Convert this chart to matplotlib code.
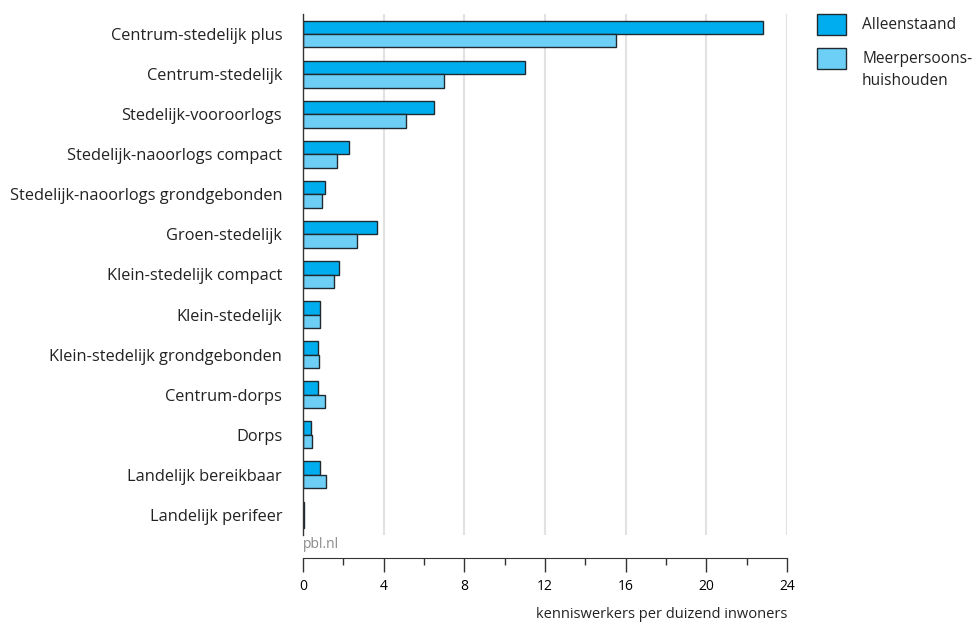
import matplotlib
matplotlib.use("Agg")
import matplotlib.pyplot as plt
import numpy as np
from matplotlib.patches import Rectangle
from matplotlib.ticker import MultipleLocator

categories = ["Centrum-stedelijk plus", "Centrum-stedelijk", "Stedelijk-vooroorlogs",
              "Stedelijk-naoorlogs compact", "Stedelijk-naoorlogs grondgebonden",
              "Groen-stedelijk", "Klein-stedelijk compact", "Klein-stedelijk",
              "Klein-stedelijk grondgebonden", "Centrum-dorps", "Dorps",
              "Landelijk bereikbaar", "Landelijk perifeer"]
alleenstaand = [22.8, 11.0, 6.5, 2.3, 1.07, 3.67, 1.78, 0.86, 0.72, 0.74, 0.41, 0.82, 0.05]
meerpersoons = [15.5, 7.0, 5.1, 1.71, 0.95, 2.68, 1.56, 0.86, 0.80, 1.10, 0.46, 1.14, 0.05]
series_names = ["Alleenstaand", "Meerpersoons-\nhuishouden"]
xticks = [0, 4, 8, 12, 16, 20, 24]
xlabel = "kenniswerkers per duizend inwoners"

plt.rcParams['font.family'] = ['Open Sans', 'DejaVu Sans']

c1 = "#00AEEF"
c2 = "#6DCFF6"
edge = "#1f2a30"
txt = "#222222"

fig = plt.figure(figsize=(9.79, 6.22), dpi=100)
W, H = 979, 622
ax = fig.add_axes([303 / W, 1 - 535 / H, (787 - 303) / W, (535 - 14) / H])

y = np.arange(len(categories))
h = 0.335
ax.barh(y - h / 2, alleenstaand, height=h, color=c1, edgecolor=edge, linewidth=1.0, zorder=3)
ax.barh(y + h / 2, meerpersoons, height=h, color=c2, edgecolor=edge, linewidth=1.0, zorder=3)

ax.set_ylim(len(categories) - 0.5, -0.5)
ax.set_xlim(0, 24)
ax.set_yticks(y)
ax.set_yticklabels(categories, fontsize=11.8, color=txt)
ax.tick_params(axis='y', length=0, pad=15)

ax.set_xticks(xticks)
ax.set_xticklabels([str(t) for t in xticks], fontsize=11, color=txt)
ax.xaxis.set_minor_locator(MultipleLocator(2))
ax.tick_params(axis='x', which='major', direction='out', length=10, width=1, color="#333333", pad=5)
ax.tick_params(axis='x', which='minor', direction='out', length=5, width=1, color="#333333")

for gx in xticks[1:]:
    ax.axvline(gx, color="#e2e2e2", linewidth=1.5, zorder=1)

for s in ["top", "right"]:
    ax.spines[s].set_visible(False)
ax.spines["left"].set_color("#333333")
ax.spines["left"].set_linewidth(1.0)
ax.spines["left"].set_zorder(4)
ax.spines["bottom"].set_position(("outward", 16.5))
ax.spines["bottom"].set_color("#333333")

ax.set_xlabel(xlabel, fontsize=10.5, color=txt, loc="right", labelpad=9.5)

fig.text(303 / W, 1 - 545 / H, "pbl.nl", fontsize=10, color="#8a8a8a", ha="left", va="center")

# legend (drawn manually to match the reference layout)
legend_colors = [c1, c2]
legend_box_tops = [14, 48]
for col, top, name in zip(legend_colors, legend_box_tops, series_names):
    fig.patches.append(Rectangle((817 / W, 1 - (top + 20.5) / H), 29 / W, 20.5 / H,
                                 transform=fig.transFigure, facecolor=col,
                                 edgecolor=edge, linewidth=1.0))
    for i, line in enumerate(name.split("\n")):
        fig.text(862 / W, 1 - (top + 15 + 22 * i) / H, line, fontsize=11.2, color=txt,
                 ha="left", va="baseline")

fig.savefig("out.png", dpi=100)
